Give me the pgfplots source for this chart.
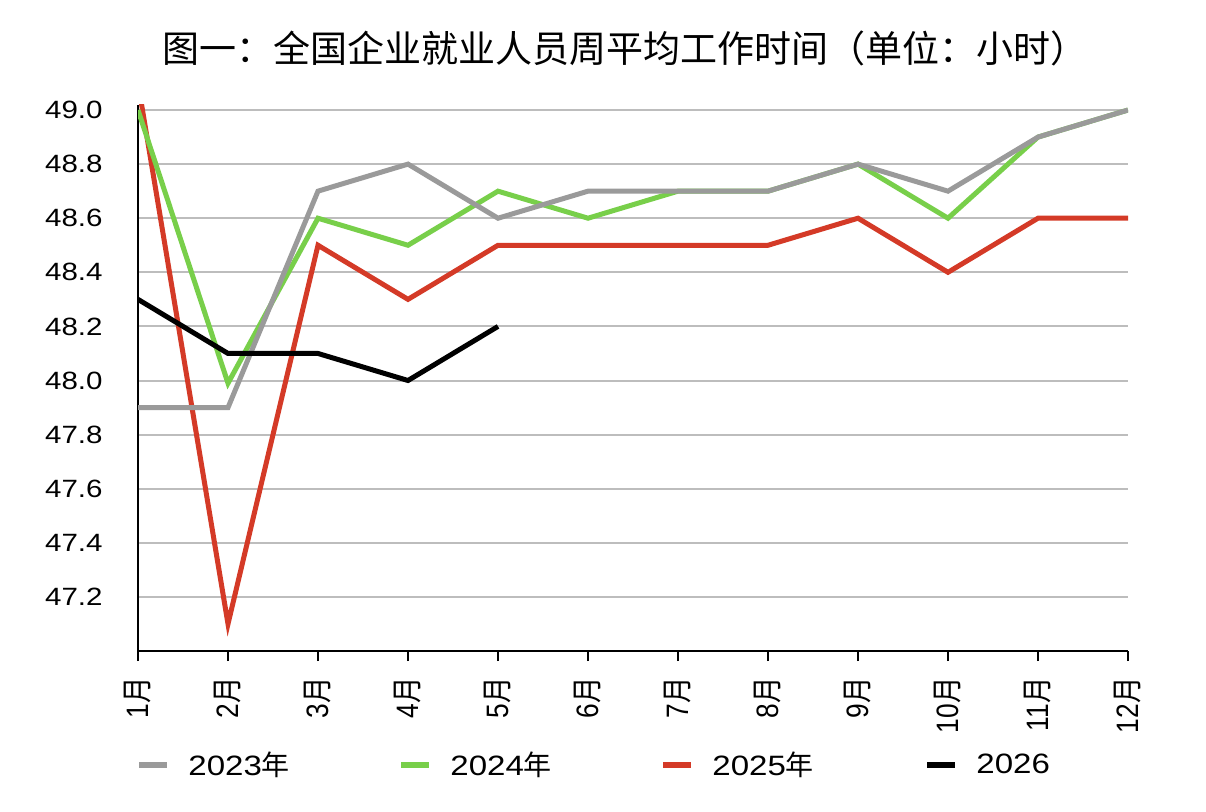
\documentclass[border=0pt]{standalone}
\usepackage{fontspec}
\setmainfont{Liberation Sans}[FakeStretch=1.18]
\newfontfamily\cjk{Noto Sans CJK SC}
\newfontfamily\rotfont{Liberation Sans}[FakeStretch=0.85]
\newfontfamily\rotcjk{Noto Sans CJK SC}[FakeStretch=0.85]
\usepackage{pgfplots}
\pgfplotsset{compat=1.18}
\definecolor{cgray}{HTML}{9A9A9A}
\definecolor{cgreen}{HTML}{78CF4A}
\definecolor{cred}{HTML}{D43A27}
\definecolor{cgrid}{HTML}{BDBDBD}
\newcommand{\m}[1]{#1{\rotcjk 月}}
\begin{document}
\begin{tikzpicture}
\useasboundingbox (0pt,0pt) rectangle (603pt,405.5pt);
\node[font=\cjk\fontsize{18.5}{20}\selectfont] at (312.5pt,381.5pt) {图一：全国企业就业人员周平均工作时间（单位：小时）};
\begin{axis}[
  at={(69pt,80pt)}, anchor=south west,
  width=495pt, height=273.2pt, scale only axis,
  xmin=1, xmax=12, ymin=47, ymax=49.02,
  clip=true,
  axis lines*=left,
  axis line style={line width=1.3pt, black},
  tick align=outside,
  major tick length=5pt,
  xtick={1,2,3,4,5,6,7,8,9,10,11,12},
  xticklabels={\m{1},\m{2},\m{3},\m{4},\m{5},\m{6},\m{7},\m{8},\m{9},\m{10},\m{11},\m{12}},
  xtick style={line width=1.3pt, black},
  ytick={47.2,47.4,47.6,47.8,48.0,48.2,48.4,48.6,48.8,49.0},
  ytick style={draw=none},
  ymajorgrids,
  grid style={line width=1pt, cgrid},
  xticklabel style={rotate=90, anchor=east, inner sep=0pt, font=\rotfont\fontsize{15.5}{17}\selectfont},
  xticklabel shift=8pt,
  yticklabel style={inner sep=0pt, font=\fontsize{12.5}{14}\selectfont},
  yticklabel shift=12.5pt,
  /pgf/number format/.cd, fixed, fixed zerofill, precision=1, assume math mode=true,
  /pgfplots/.cd,
  legend columns=4,
  legend style={draw=none, fill=none, inner sep=0pt, at={(-0.002,-0.2086)}, anchor=west,
    nodes={inner sep=0pt}, font=\fontsize{14}{16}\selectfont,
    /tikz/every odd column/.append style={column sep=9pt}},
  legend image code/.code={\draw[#1] (0pt,0pt) -- (14pt,0pt);},
]
\addlegendimage{cgray, line width=3pt}
\addlegendentry{\makebox[105pt][l]{2023{\cjk 年}}}
\addlegendimage{cgreen, line width=3pt}
\addlegendentry{\makebox[105pt][l]{2024{\cjk 年}}}
\addlegendimage{cred, line width=3pt}
\addlegendentry{\makebox[106pt][l]{2025{\cjk 年}}}
\addlegendimage{black, line width=3pt}
\addlegendentry{\makebox[60pt][l]{2026}}

\addplot[cred, line width=2.5pt, forget plot] coordinates {
(1,49.1) (2,47.1) (3,48.5) (4,48.3) (5,48.5) (6,48.5) (7,48.5) (8,48.5) (9,48.6) (10,48.4) (11,48.6) (12,48.6)};
\addplot[cgreen, line width=2.5pt, forget plot] coordinates {
(1,49.0) (2,47.99) (3,48.6) (4,48.5) (5,48.7) (6,48.6) (7,48.7) (8,48.7) (9,48.8) (10,48.6) (11,48.9) (12,49.0)};
\addplot[cgray, line width=2.5pt, forget plot] coordinates {
(1,47.9) (2,47.9) (3,48.7) (4,48.8) (5,48.6) (6,48.7) (7,48.7) (8,48.7) (9,48.8) (10,48.7) (11,48.9) (12,49.0)};
\addplot[black, line width=2.5pt, forget plot] coordinates {
(1,48.3) (2,48.1) (3,48.1) (4,48.0) (5,48.2)};
\end{axis}
\end{tikzpicture}
\end{document}
